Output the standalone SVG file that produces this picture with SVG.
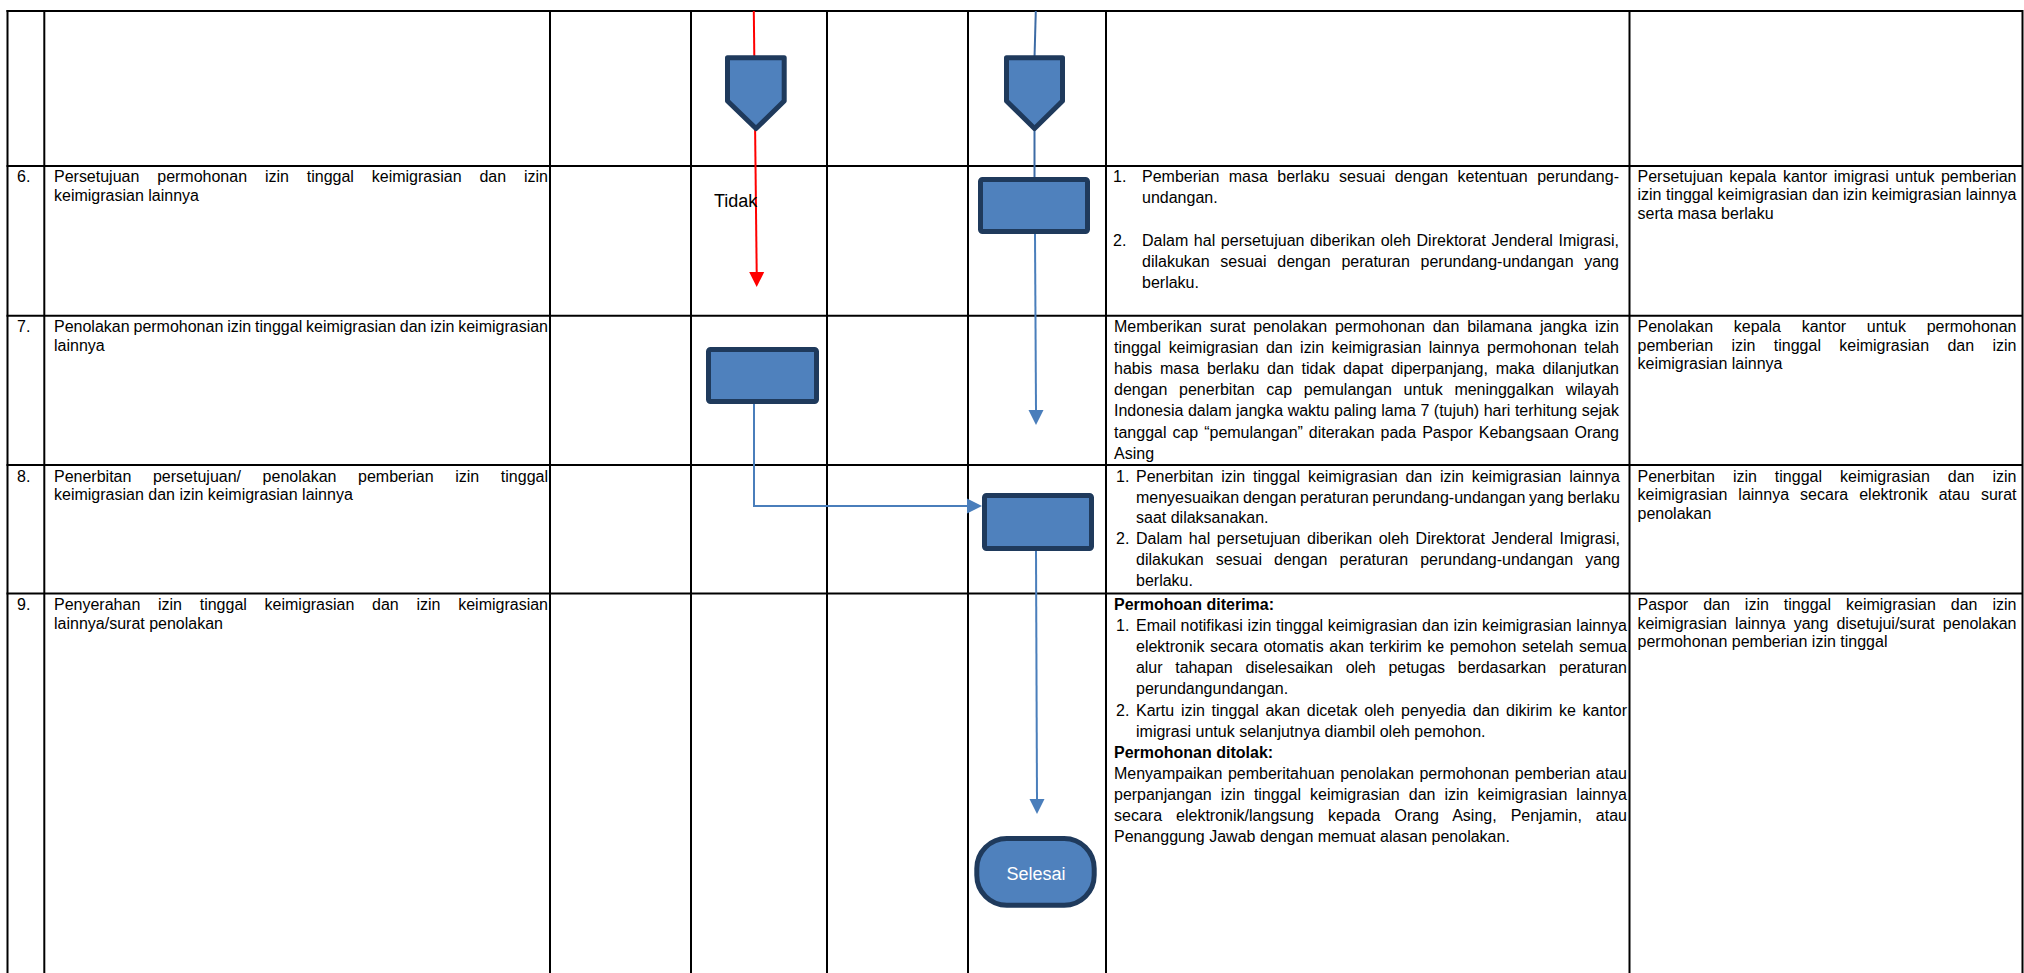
<svg xmlns="http://www.w3.org/2000/svg" width="2024" height="973" viewBox="0 0 2024 973">
<style>
.t{font-family:"Liberation Sans",Arial,sans-serif;font-size:16px;fill:#000}
.b{font-weight:bold}
.grid line{stroke:#000;stroke-width:2}
.shape{fill:#4F81BD;stroke:#1F3A5C;stroke-width:5;stroke-linejoin:round}
.blue{stroke:#4A7EBB;stroke-width:2;fill:none}
.blue2{stroke:#3C6BA5;stroke-width:2;fill:none}
.red{stroke:#FF0000;stroke-width:2;fill:none}
</style>
<rect width="2024" height="973" fill="#fff"/>
<g id="table" class="grid">
<line x1="6.5" y1="11" x2="2023" y2="11"/>
<line x1="6.5" y1="166" x2="2023" y2="166"/>
<line x1="6.5" y1="315.7" x2="2023" y2="315.7"/>
<line x1="6.5" y1="465" x2="2023" y2="465"/>
<line x1="6.5" y1="593.5" x2="2023" y2="593.5"/>
<line x1="7.5" y1="10" x2="7.5" y2="973"/>
<line x1="44.3" y1="10" x2="44.3" y2="973"/>
<line x1="550" y1="10" x2="550" y2="973"/>
<line x1="691" y1="10" x2="691" y2="973"/>
<line x1="827" y1="10" x2="827" y2="973"/>
<line x1="968" y1="10" x2="968" y2="973"/>
<line x1="1106" y1="10" x2="1106" y2="973"/>
<line x1="1629.5" y1="10" x2="1629.5" y2="973"/>
<line x1="2022.5" y1="10" x2="2022.5" y2="973"/>
</g>
<g id="col-no">
<text class="t" x="17" y="182">6.</text>
<text class="t" x="17" y="332">7.</text>
<text class="t" x="17" y="481.7">8.</text>
<text class="t" x="17" y="610">9.</text>
</g>
<g id="col-activity">
<text class="t" x="54" y="182" word-spacing="13.42" textLength="494" lengthAdjust="spacing">Persetujuan permohonan izin tinggal keimigrasian dan izin</text>
<text class="t" x="54" y="200.5">keimigrasian lainnya</text>
<text class="t" x="54" y="332" word-spacing="-0.56" textLength="494" lengthAdjust="spacing">Penolakan permohonan izin tinggal keimigrasian dan izin keimigrasian</text>
<text class="t" x="54" y="350.5">lainnya</text>
<text class="t" x="54" y="481.7" word-spacing="17.16" textLength="494" lengthAdjust="spacing">Penerbitan persetujuan/ penolakan pemberian izin tinggal</text>
<text class="t" x="54" y="500.2">keimigrasian dan izin keimigrasian lainnya</text>
<text class="t" x="54" y="610" word-spacing="13.27" textLength="494" lengthAdjust="spacing">Penyerahan izin tinggal keimigrasian dan izin keimigrasian</text>
<text class="t" x="54" y="628.5">lainnya/surat penolakan</text>
</g>
<g id="connectors">
<line class="red" x1="753.8" y1="11" x2="756.7" y2="273"/>
<polygon points="749.2,272 764.2,272 756.7,287" fill="#FF0000"/>
<line class="blue2" x1="1035.8" y1="11" x2="1034.5" y2="58"/>
<line class="blue2" x1="1034.5" y1="128" x2="1034.5" y2="178"/>
<line class="blue" x1="1035" y1="234" x2="1036" y2="411"/>
<polygon points="1028.5,410 1043.5,410 1036,425" fill="#4A7EBB"/>
<polyline class="blue" points="764,402.5 754,402.5 754,506 968,506"/>
<polygon points="967,498.5 967,513.5 982,506" fill="#4A7EBB"/>
<line class="blue" x1="1036" y1="551" x2="1037" y2="800"/>
<polygon points="1029.5,799 1044.5,799 1037,814" fill="#4A7EBB"/>
</g>
<g id="offpage-1">
<path class="shape" d="M727.5,57.8 H784.2 V101 L756,128.5 L727.5,101 Z"/>
</g>
<g id="offpage-2">
<path class="shape" d="M1006.5,57.8 H1062.5 V101 L1034.5,128.5 L1006.5,101 Z"/>
</g>
<g id="label-tidak">
<text class="t" x="714" y="207" style="font-size:18px">Tidak</text>
</g>
<g id="process-6">
<rect class="shape" x="980.5" y="179.5" width="107" height="52" rx="2"/>
</g>
<g id="process-7">
<rect class="shape" x="708.5" y="349.5" width="108" height="52" rx="2"/>
</g>
<g id="process-8">
<rect class="shape" x="984.5" y="495.5" width="107" height="53" rx="2"/>
</g>
<g id="end-selesai">
<rect class="shape" x="976.8" y="838.5" width="117.4" height="66.7" rx="30" ry="30"/>
<text class="t" x="1036" y="879.5" text-anchor="middle" style="font-size:18px;fill:#fff">Selesai</text>
</g>
<g id="col-desc">
<text class="t" x="1113" y="182">1.</text>
<text class="t" x="1142" y="182" word-spacing="4.94" textLength="477" lengthAdjust="spacing">Pemberian masa berlaku sesuai dengan ketentuan perundang-</text>
<text class="t" x="1142" y="203.2">undangan.</text>
<text class="t" x="1113" y="245.8">2.</text>
<text class="t" x="1142" y="245.8" word-spacing="1.19" textLength="477" lengthAdjust="spacing">Dalam hal persetujuan diberikan oleh Direktorat Jenderal Imigrasi,</text>
<text class="t" x="1142" y="267" word-spacing="6.28" textLength="477" lengthAdjust="spacing">dilakukan sesuai dengan peraturan perundang-undangan yang</text>
<text class="t" x="1142" y="288.2">berlaku.</text>

<text class="t" x="1114" y="332" word-spacing="3.41" textLength="505" lengthAdjust="spacing">Memberikan surat penolakan permohonan dan bilamana jangka izin</text>
<text class="t" x="1114" y="353.1" word-spacing="3.04" textLength="505" lengthAdjust="spacing">tinggal keimigrasian dan izin keimigrasian lainnya permohonan telah</text>
<text class="t" x="1114" y="374.2" word-spacing="3.33" textLength="505" lengthAdjust="spacing">habis masa berlaku dan tidak dapat diperpanjang, maka dilanjutkan</text>
<text class="t" x="1114" y="395.3" word-spacing="7.25" textLength="505" lengthAdjust="spacing">dengan penerbitan cap pemulangan untuk meninggalkan wilayah</text>
<text class="t" x="1114" y="416.4" word-spacing="0.08" textLength="505" lengthAdjust="spacing">Indonesia dalam jangka waktu paling lama 7 (tujuh) hari terhitung sejak</text>
<text class="t" x="1114" y="437.5" word-spacing="1.51" textLength="505" lengthAdjust="spacing">tanggal cap “pemulangan” diterakan pada Paspor Kebangsaan Orang</text>
<text class="t" x="1114" y="458.6">Asing</text>

<text class="t" x="1116" y="481.7">1.</text>
<text class="t" x="1136" y="481.7" word-spacing="3.34" textLength="484" lengthAdjust="spacing">Penerbitan izin tinggal keimigrasian dan izin keimigrasian lainnya</text>
<text class="t" x="1136" y="502.5" word-spacing="-0.68" textLength="484" lengthAdjust="spacing">menyesuaikan dengan peraturan perundang-undangan yang berlaku</text>
<text class="t" x="1136" y="523.3">saat dilaksanakan.</text>
<text class="t" x="1116" y="544.1">2.</text>
<text class="t" x="1136" y="544.1" word-spacing="2.2" textLength="484" lengthAdjust="spacing">Dalam hal persetujuan diberikan oleh Direktorat Jenderal Imigrasi,</text>
<text class="t" x="1136" y="564.9" word-spacing="7.68" textLength="484" lengthAdjust="spacing">dilakukan sesuai dengan peraturan perundang-undangan yang</text>
<text class="t" x="1136" y="585.7">berlaku.</text>

<text class="t b" x="1114" y="610">Permohoan diterima:</text>
<text class="t" x="1116" y="631.1">1.</text>
<text class="t" x="1136" y="631.1" word-spacing="0.2" textLength="491" lengthAdjust="spacing">Email notifikasi izin tinggal keimigrasian dan izin keimigrasian lainnya</text>
<text class="t" x="1136" y="652.2" word-spacing="1.08" textLength="491" lengthAdjust="spacing">elektronik secara otomatis akan terkirim ke pemohon setelah semua</text>
<text class="t" x="1136" y="673.3" word-spacing="8.38" textLength="491" lengthAdjust="spacing">alur tahapan diselesaikan oleh petugas berdasarkan peraturan</text>
<text class="t" x="1136" y="694.4">perundangundangan.</text>
<text class="t" x="1116" y="715.5">2.</text>
<text class="t" x="1136" y="715.5" word-spacing="2.28" textLength="491" lengthAdjust="spacing">Kartu izin tinggal akan dicetak oleh penyedia dan dikirim ke kantor</text>
<text class="t" x="1136" y="736.6">imigrasi untuk selanjutnya diambil oleh pemohon.</text>
<text class="t b" x="1114" y="757.7">Permohonan ditolak:</text>
<text class="t" x="1114" y="778.8" word-spacing="1.13" textLength="513" lengthAdjust="spacing">Menyampaikan pemberitahuan penolakan permohonan pemberian atau</text>
<text class="t" x="1114" y="799.9" word-spacing="4.64" textLength="513" lengthAdjust="spacing">perpanjangan izin tinggal keimigrasian dan izin keimigrasian lainnya</text>
<text class="t" x="1114" y="821" word-spacing="9.55" textLength="513" lengthAdjust="spacing">secara elektronik/langsung kepada Orang Asing, Penjamin, atau</text>
<text class="t" x="1114" y="842.1">Penanggung Jawab dengan memuat alasan penolakan.</text>
</g>
<g id="col-output">
<text class="t" x="1637.5" y="181.7" word-spacing="1.99" textLength="379" lengthAdjust="spacing">Persetujuan kepala kantor imigrasi untuk pemberian</text>
<text class="t" x="1637.5" y="200.2" word-spacing="0.04" textLength="379" lengthAdjust="spacing">izin tinggal keimigrasian dan izin keimigrasian lainnya</text>
<text class="t" x="1637.5" y="218.7">serta masa berlaku</text>
<text class="t" x="1637.5" y="332" word-spacing="16.25" textLength="379" lengthAdjust="spacing">Penolakan kepala kantor untuk permohonan</text>
<text class="t" x="1637.5" y="350.5" word-spacing="13.91" textLength="379" lengthAdjust="spacing">pemberian izin tinggal keimigrasian dan izin</text>
<text class="t" x="1637.5" y="369">keimigrasian lainnya</text>
<text class="t" x="1637.5" y="481.7" word-spacing="13.55" textLength="379" lengthAdjust="spacing">Penerbitan izin tinggal keimigrasian dan izin</text>
<text class="t" x="1637.5" y="500.2" word-spacing="6.62" textLength="379" lengthAdjust="spacing">keimigrasian lainnya secara elektronik atau surat</text>
<text class="t" x="1637.5" y="518.7">penolakan</text>
<text class="t" x="1637.5" y="610" word-spacing="10.55" textLength="379" lengthAdjust="spacing">Paspor dan izin tinggal keimigrasian dan izin</text>
<text class="t" x="1637.5" y="628.5" word-spacing="3.7" textLength="379" lengthAdjust="spacing">keimigrasian lainnya yang disetujui/surat penolakan</text>
<text class="t" x="1637.5" y="647">permohonan pemberian izin tinggal</text>
</g>
</svg>
